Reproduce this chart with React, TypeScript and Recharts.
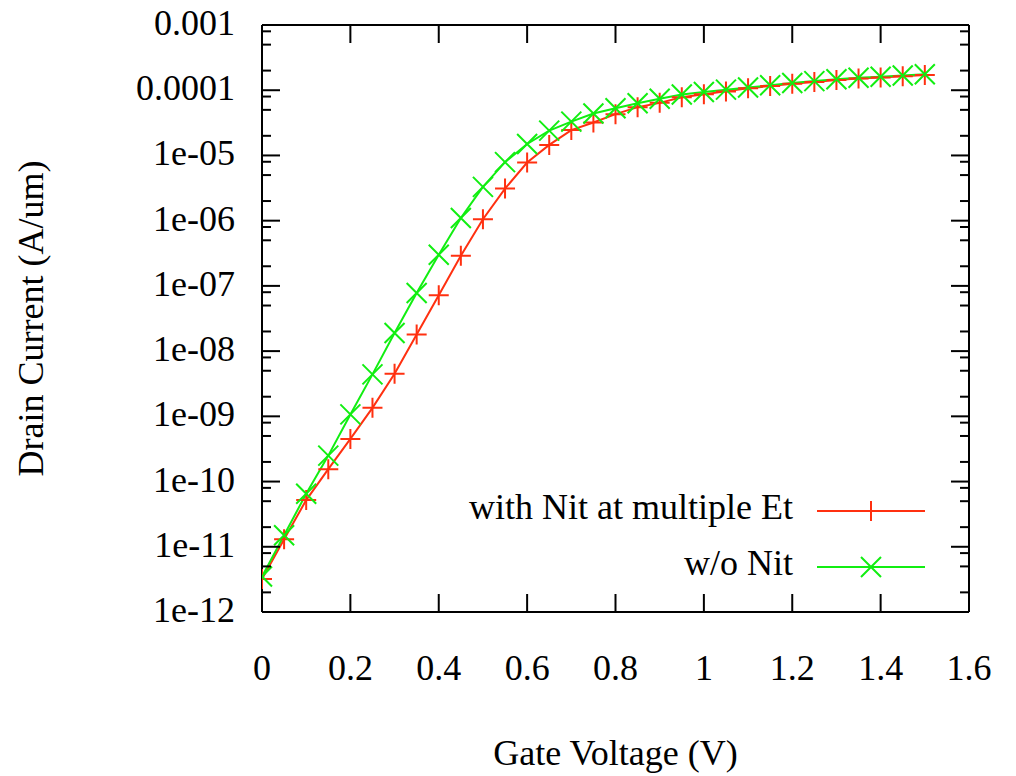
import React from "react";
import {
  LineChart,
  Line,
  XAxis,
  YAxis,
  Legend,
} from "recharts";

// gate voltage sweep (V)
const gateVoltage = [
  0, 0.05, 0.1, 0.15, 0.2, 0.25, 0.3, 0.35, 0.4, 0.45, 0.5, 0.55, 0.6, 0.65,
  0.7, 0.75, 0.8, 0.85, 0.9, 0.95, 1.0, 1.05, 1.1, 1.15, 1.2, 1.25, 1.3, 1.35,
  1.4, 1.45, 1.5,
];

// drain current (A/um), with interface traps at multiple energy levels
const currentWithNit = [
  3.2e-12, 1.3e-11, 5.2e-11, 1.55e-10, 4.5e-10, 1.35e-9, 4.5e-9, 1.8e-8,
  7.2e-8, 2.9e-7, 1.05e-6, 3.1e-6, 7.8e-6, 1.45e-5, 2.45e-5, 3.2e-5, 4.3e-5,
  5.5e-5, 6.4e-5, 7.8e-5, 8.7e-5, 9.6e-5, 1.07e-4, 1.16e-4, 1.26e-4, 1.34e-4,
  1.43e-4, 1.51e-4, 1.57e-4, 1.64e-4, 1.71e-4,
];

// drain current (A/um), no interface traps
const currentWithoutNit = [
  3.5e-12, 1.5e-11, 6.5e-11, 2.5e-10, 1.07e-9, 4.4e-9, 1.9e-8, 7.8e-8, 3.0e-7,
  1.1e-6, 3.3e-6, 7.9e-6, 1.5e-5, 2.4e-5, 3.3e-5, 4.4e-5, 5.3e-5, 6.3e-5,
  7.4e-5, 8.6e-5, 9.4e-5, 1.02e-4, 1.1e-4, 1.19e-4, 1.29e-4, 1.38e-4, 1.47e-4,
  1.55e-4, 1.61e-4, 1.68e-4, 1.76e-4,
];

const xTicks = [0, 0.2, 0.4, 0.6, 0.8, 1, 1.2, 1.4, 1.6];
const xTickLabels = ["0", "0.2", "0.4", "0.6", "0.8", "1", "1.2", "1.4", "1.6"];

const yMajorTicks = [1e-12, 1e-11, 1e-10, 1e-9, 1e-8, 1e-7, 1e-6, 1e-5, 1e-4, 1e-3];
const yTickLabels = [
  "1e-12", "1e-11", "1e-10", "1e-09", "1e-08", "1e-07", "1e-06", "1e-05",
  "0.0001", "0.001",
];
const yMinorFactors = [2, 5, 8];

const RED = "#ff3010";
const GREEN = "#11ee11";
const FONT = "'Liberation Serif', 'Times New Roman', serif";
const FONT_SIZE = 36;

const series = [
  { key: "withNit", name: "with Nit at multiple Et", color: RED, marker: "plus", xId: "bottom", yId: "left" },
  { key: "withoutNit", name: "w/o Nit", color: GREEN, marker: "cross", xId: "top", yId: "right" },
];

const data = gateVoltage.map((v, i) => ({
  v,
  withNit: currentWithNit[i],
  withoutNit: currentWithoutNit[i],
}));

// major ticks plus minor ticks inside each decade
const yAllTicks: number[] = [];
yMajorTicks.forEach((t, i) => {
  yAllTicks.push(t);
  if (i < yMajorTicks.length - 1) {
    yMinorFactors.forEach((m) => yAllTicks.push(Number((t * m).toPrecision(3))));
  }
});

const markerPath = (type: string, cx: number, cy: number) =>
  type === "plus"
    ? `M${cx - 10},${cy}h20M${cx},${cy - 10}v20`
    : `M${cx - 10},${cy - 10}l20,20M${cx - 10},${cy + 10}l20,-20`;

const makeDot = (type: string, color: string) => (p: any) => {
  if (p.cx == null || p.cy == null) return <g key={`e-${p.index}`} />;
  return (
    <path
      key={`${type}-${p.index}`}
      d={markerPath(type, p.cx, p.cy)}
      stroke={color}
      strokeWidth={2}
      fill="none"
    />
  );
};

const LeftTick = (props: any) => {
  const { x, y, payload } = props;
  const idx = yMajorTicks.indexOf(payload.value);
  const major = idx >= 0;
  return (
    <g>
      <line x1={x} x2={x + (major ? 18 : 9)} y1={y} y2={y} stroke="#000" strokeWidth={2} />
      {major && (
        <text x={x - 27} y={y + 10} textAnchor="end" fontFamily={FONT} fontSize={FONT_SIZE} fill="#000">
          {yTickLabels[idx]}
        </text>
      )}
    </g>
  );
};

const RightTick = (props: any) => {
  const { x, y, payload } = props;
  const major = yMajorTicks.indexOf(payload.value) >= 0;
  return <line x1={x} x2={x - (major ? 18 : 9)} y1={y} y2={y} stroke="#000" strokeWidth={2} />;
};

const BottomTick = (props: any) => {
  const { x, y, payload } = props;
  const idx = xTicks.indexOf(payload.value);
  return (
    <g>
      <line x1={x} x2={x} y1={y} y2={y - 18} stroke="#000" strokeWidth={2} />
      <text x={x} y={y + 68} textAnchor="middle" fontFamily={FONT} fontSize={FONT_SIZE} fill="#000">
        {xTickLabels[idx]}
      </text>
    </g>
  );
};

const TopTick = (props: any) => {
  const { x, y } = props;
  return <line x1={x} x2={x} y1={y} y2={y + 18} stroke="#000" strokeWidth={2} />;
};

const LegendBox = () => (
  <svg width={500} height={120}>
    {series.map((s, i) => {
      const cy = 33 + i * 56;
      return (
        <g key={s.key}>
          <text x={345} y={cy + 8} textAnchor="end" fontFamily={FONT} fontSize={FONT_SIZE} fill="#000">
            {s.name}
          </text>
          <line x1={369} x2={477} y1={cy} y2={cy} stroke={s.color} strokeWidth={2} />
          <path d={markerPath(s.marker, 423, cy)} stroke={s.color} strokeWidth={2} fill="none" />
        </g>
      );
    })}
  </svg>
);

export default function App() {
  return (
    <div style={{ width: 1016, height: 776, background: "#fff" }}>
      <style>{"html,body{margin:0;padding:0;overflow:hidden;background:#fff}"}</style>
      <LineChart
        width={1016}
        height={776}
        data={data}
        margin={{ top: 24, right: 46, left: 0, bottom: 0 }}
      >
        <XAxis
          xAxisId="bottom"
          dataKey="v"
          type="number"
          domain={[0, 1.6]}
          ticks={xTicks}
          interval={0}
          height={164}
          tickSize={0}
          tickMargin={0}
          tickLine={false}
          tick={<BottomTick />}
          axisLine={{ stroke: "#000", strokeWidth: 2 }}
          allowDataOverflow
          label={{
            value: "Gate Voltage (V)",
            position: "insideBottom",
            offset: 11,
            style: { fontFamily: FONT, fontSize: FONT_SIZE, fill: "#000" },
          }}
        />
        <XAxis
          xAxisId="top"
          dataKey="v"
          type="number"
          orientation="top"
          domain={[0, 1.6]}
          ticks={xTicks}
          interval={0}
          height={1}
          tickSize={0}
          tickMargin={0}
          tickLine={false}
          tick={<TopTick />}
          axisLine={{ stroke: "#000", strokeWidth: 2 }}
          allowDataOverflow
        />
        <YAxis
          yAxisId="left"
          scale="log"
          domain={[1e-12, 1e-3]}
          ticks={yAllTicks}
          interval={0}
          width={262}
          tickSize={0}
          tickMargin={0}
          tickLine={false}
          tick={<LeftTick />}
          axisLine={{ stroke: "#000", strokeWidth: 2 }}
          allowDataOverflow
          label={{
            value: "Drain Current (A/um)",
            angle: -90,
            position: "insideLeft",
            offset: 30,
            style: { fontFamily: FONT, fontSize: FONT_SIZE, fill: "#000", textAnchor: "middle" },
          }}
        />
        <YAxis
          yAxisId="right"
          orientation="right"
          scale="log"
          domain={[1e-12, 1e-3]}
          ticks={yAllTicks}
          interval={0}
          width={1}
          tickSize={0}
          tickMargin={0}
          tickLine={false}
          tick={<RightTick />}
          axisLine={{ stroke: "#000", strokeWidth: 2 }}
          allowDataOverflow
        />
        <Legend
          layout="vertical"
          align="center"
          verticalAlign="middle"
          content={<LegendBox />}
          wrapperStyle={{ left: 448, top: 478, width: 500, height: 120 }}
        />
        {series.map((s) => (
          <Line
            key={s.key}
            xAxisId={s.xId}
            yAxisId={s.yId}
            dataKey={s.key}
            name={s.name}
            type="linear"
            stroke={s.color}
            strokeWidth={2}
            dot={makeDot(s.marker, s.color)}
            activeDot={false}
            isAnimationActive={false}
          />
        ))}
      </LineChart>
    </div>
  );
}
